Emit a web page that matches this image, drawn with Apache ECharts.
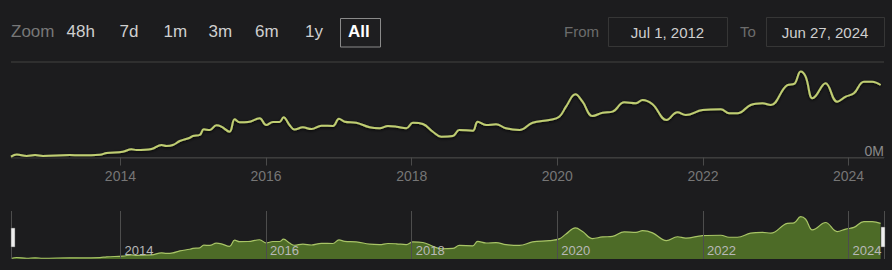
<!DOCTYPE html>
<html>
<head>
<meta charset="utf-8">
<script src="https://cdn.jsdelivr.net/npm/echarts@6/dist/echarts.min.js"></script>
<style>
html,body{margin:0;padding:0;background:#1c1c1e;}
#c{width:892px;height:270px;}
</style>
</head>
<body>
<div id="c"></div>
<script>
// ---- data (relative player counts, axis top = 100) ----
const dates = [
'2012-07-01','2012-07-30','2012-09-18','2012-10-30','2012-12-08','2013-04-22','2013-06-12','2013-09-20','2013-10-24',
'2014-01-13','2014-02-25','2014-03-23','2014-06-06','2014-07-26','2014-08-20','2014-09-21','2014-10-26','2014-12-15','2014-12-30',
'2015-02-03','2015-02-23','2015-03-25','2015-04-27','2015-05-22','2015-07-02','2015-07-28','2015-08-22','2015-10-03','2015-11-30',
'2016-01-02','2016-02-05','2016-03-09','2016-03-29','2016-04-28','2016-05-23','2016-07-04','2016-08-16','2016-10-05','2016-12-02',
'2017-01-01','2017-01-30','2017-03-29','2017-06-04','2017-07-24','2017-09-04','2017-10-16','2017-12-05',
'2018-01-07','2018-02-26','2018-04-17','2018-05-29','2018-07-26','2018-08-28','2018-11-03','2018-11-28',
'2019-01-09','2019-02-28','2019-04-19','2019-06-25','2019-08-30','2019-11-22',
'2020-01-11','2020-02-14','2020-04-01','2020-05-07','2020-06-26','2020-08-15','2020-10-04','2020-12-02',
'2021-01-30','2021-03-04','2021-04-23','2021-07-02','2021-08-26','2021-10-07','2021-12-30',
'2022-04-01','2022-05-12','2022-06-23','2022-08-28','2022-10-26','2022-12-07',
'2023-02-28','2023-04-03','2023-05-06','2023-05-31','2023-07-03','2023-07-20','2023-09-08','2023-11-05','2023-12-18',
'2024-01-28','2024-03-18','2024-04-29','2024-06-10'
];
const players = [
1.0,3.2,1.6,2.6,1.6,2.6,2.3,2.9,4.7,
6.1,8.6,7.9,8.9,13.1,12.0,13.1,17.3,20.7,22.5,
23.6,29.5,28.8,33.7,32.3,27.0,40.0,36.9,37.2,41.0,
34.0,37.2,37.2,42.1,34.0,29.3,31.6,29.8,33.3,33.0,
40.6,37.5,36.4,31.6,30.6,33.0,32.3,30.6,
36.4,35.1,27.0,21.8,22.5,28.8,28.1,37.5,
34.0,34.8,30.6,28.8,36.4,39.3,
42.7,53.2,66.2,58.4,43.5,46.9,48.0,57.8,
56.8,60.2,55.7,39.3,47.3,44.5,49.7,
50.5,46.3,46.3,55.0,56.8,55.0,
75.9,77.0,90.1,84.6,62.0,64.4,77.7,58.4,63.7,
67.2,79.4,79.4,75.9
];
const yearTicks = ['2014-01-01','2016-01-01','2018-01-01','2020-01-01','2022-01-01','2024-01-01'];
const rangeStart = '2012-07-01';
const rangeEnd = '2024-06-27';
const zoomButtons = ['48h','7d','1m','3m','6m','1y','All'];
const fromLabel = 'Jul 1, 2012';
const toLabel = 'Jun 27, 2024';

// ---- helpers ----
function ts(s){ const p = s.split('-').map(Number); return Date.UTC(p[0], p[1]-1, p[2]); }
const seriesData = dates.map((d,i)=>[ts(d), players[i]]);
const yearTs = yearTicks.map(ts);
const tMin = ts(rangeStart), tMax = ts(rangeEnd);
const FF = "'Liberation Sans', Arial, Helvetica, sans-serif";
const yearFmt = v => String(new Date(v + 86400000).getUTCFullYear());

const btnX = [66.5,119.5,163.5,208.5,255,305,348];
const graphics = [
  {type:'text', left:11, top:23, style:{text:'Zoom', fill:'#777', font:'17px '+FF}},
];
graphics.push({type:'rect', shape:{x:340.5,y:18.5,width:40,height:28.5}, style:{fill:'#1e1e20', stroke:'#8a8a8a', lineWidth:1}, z:0});
zoomButtons.forEach((b,i)=>{
  const isAll = b==='All';
  graphics.push({type:'text', left:btnX[i], top:23, z:1, style:{text:b, fill:isAll?'#ffffff':'#cfcfcf', font:(isAll?'bold ':'')+'17px '+FF}});
});
graphics.push({type:'text', left:564, top:24, style:{text:'From', fill:'#6c6c6c', font:'15px '+FF}});
graphics.push({type:'rect', shape:{x:608.5,y:17.5,width:119,height:29}, style:{fill:'none', stroke:'#363636', lineWidth:1}});
graphics.push({type:'text', x:667.5, y:32, style:{text:fromLabel, fill:'#cfcfcf', font:'15px '+FF, align:'center', verticalAlign:'middle'}});
graphics.push({type:'text', left:740, top:24, style:{text:'To', fill:'#6c6c6c', font:'15px '+FF}});
graphics.push({type:'rect', shape:{x:766.5,y:17.5,width:118,height:29}, style:{fill:'none', stroke:'#363636', lineWidth:1}});
graphics.push({type:'text', x:825, y:32, style:{text:toLabel, fill:'#cfcfcf', font:'15px '+FF, align:'center', verticalAlign:'middle'}});
// navigator handles
graphics.push({type:'rect', shape:{x:11,y:228,width:4,height:19}, style:{fill:'#eeeeee', stroke:'#555', lineWidth:0.5}, z:50});
graphics.push({type:'rect', shape:{x:881,y:227,width:4,height:20}, style:{fill:'#eeeeee', stroke:'#555', lineWidth:0.5}, z:50});

const chart = echarts.init(document.getElementById('c'), null, {renderer:'svg'});
chart.setOption({
  backgroundColor:'#1c1c1e',
  animation:false,
  textStyle:{fontFamily:FF},
  graphic: graphics,
  grid:[
    {left:11, right:8, top:62, height:95.5},
    {left:11, right:8, top:212, height:47}
  ],
  xAxis:[
    {type:'value', gridIndex:0, min:tMin, max:tMax,
     axisLine:{show:true, lineStyle:{color:'#3d3d3d', width:1}},
     axisTick:{show:true, customValues:yearTs, length:8, lineStyle:{color:'#4a4a4a'}},
     axisLabel:{customValues:yearTs, formatter:yearFmt, color:'#767676', fontSize:14, margin:11, fontFamily:FF},
     splitLine:{show:false}},
    {type:'value', gridIndex:1, min:tMin, max:tMax, z:5,
     axisLine:{show:false},
     axisTick:{show:true, inside:true, customValues:[tMin].concat(yearTs,[tMax]), length:48, lineStyle:{color:'#4d4d4d', width:1}},
     axisLabel:{inside:true, customValues:yearTs, formatter:yearFmt, align:'left', verticalAlign:'bottom', padding:[0,0,0,4], color:'#b8b8b8', fontSize:13, margin:2, fontFamily:FF},
     splitLine:{show:false}}
  ],
  yAxis:[
    {type:'value', gridIndex:0, min:0, max:100, interval:100, position:'right',
     axisLine:{show:false}, axisTick:{show:false},
     splitLine:{show:true, lineStyle:{color:'#363636', width:1.5}},
     axisLabel:{inside:true, formatter:v=> v===0?'0M':'', color:'#8a8a8a', fontSize:14, margin:0, verticalAlign:'bottom', fontFamily:FF}},
    {type:'value', gridIndex:1, min:0, max:100, show:false, splitLine:{show:false}}
  ],
  series:[
    {type:'line', xAxisIndex:0, yAxisIndex:0, data:seriesData, smooth:0.4, showSymbol:false, z:3,
     lineStyle:{color:'#bfcd72', width:2, shadowColor:'rgba(0,0,0,0.9)', shadowBlur:3, shadowOffsetY:1}},
    {type:'line', xAxisIndex:1, yAxisIndex:1, data:seriesData, smooth:0.4, showSymbol:false, z:2,
     lineStyle:{color:'#a8c466', width:1.2},
     areaStyle:{color:'#4d6b27', opacity:1}}
  ]
});
</script>
</body>
</html>
